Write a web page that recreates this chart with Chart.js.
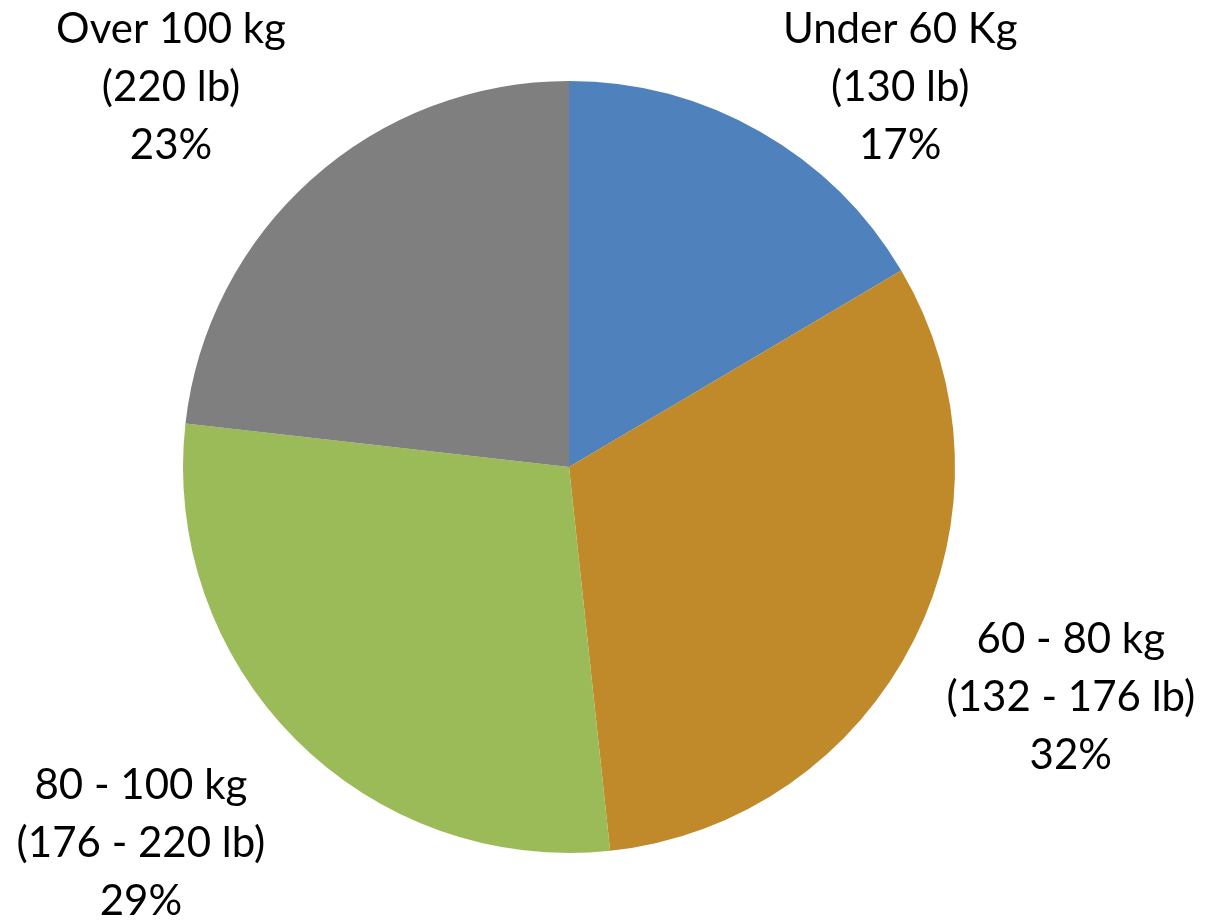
<!DOCTYPE html>
<html>
<head>
<meta charset="utf-8">
<script src="https://cdn.jsdelivr.net/npm/chart.js@4"></script>
<style>
  html, body { margin: 0; padding: 0; background: #fff; }
</style>
</head>
<body>
<canvas id="pie" width="1205" height="920"></canvas>
<script>
// data
const categories    = ["Under 60 Kg", "60 - 80 kg", "80 - 100 kg", "Over 100 kg"];
const poundLabels   = ["(130 lb)", "(132 - 176 lb)", "(176 - 220 lb)", "(220 lb)"];
const percentLabels = ["17%", "32%", "29%", "23%"];
const shares        = [16.5, 31.8, 28.5, 23.2];

const sliceColors = ["#4F81BD", "#C0892A", "#9BBB59", "#7F7F7F"];
// where each label block sits, in pie radii from the pie centre
const labelOffsets = [[0.858, -0.982], [1.30, 0.596], [-1.109, 0.974], [-1.031, -0.982]];
const LABEL_FONT = "42px Lato";
const LINE_GAP = 58;

const outsideLabels = {
  id: "outsideLabels",
  afterDatasetsDraw(chart) {
    const ctx = chart.ctx;
    const arcs = chart.getDatasetMeta(0).data;
    ctx.save();
    ctx.font = LABEL_FONT;
    ctx.fillStyle = "#000";
    ctx.textAlign = "center";
    ctx.textBaseline = "middle";
    arcs.forEach((arc, i) => {
      const r = arc.outerRadius;
      const cx = arc.x + labelOffsets[i][0] * r;
      const cy = arc.y + labelOffsets[i][1] * r;
      ctx.fillText(categories[i], cx, cy - LINE_GAP);
      ctx.fillText(poundLabels[i], cx, cy);
      ctx.fillText(percentLabels[i], cx, cy + LINE_GAP);
    });
    ctx.restore();
  }
};

new Chart(document.getElementById("pie").getContext("2d"), {
  type: "pie",
  data: {
    labels: categories,
    datasets: [{ data: shares, backgroundColor: sliceColors, borderWidth: 0 }]
  },
  options: {
    responsive: false,
    animation: false,
    layout: { padding: { top: 81, bottom: 67, left: 100, right: 167 } },
    plugins: { legend: { display: false }, tooltip: { enabled: false } }
  },
  plugins: [outsideLabels]
});
</script>
</body>
</html>
